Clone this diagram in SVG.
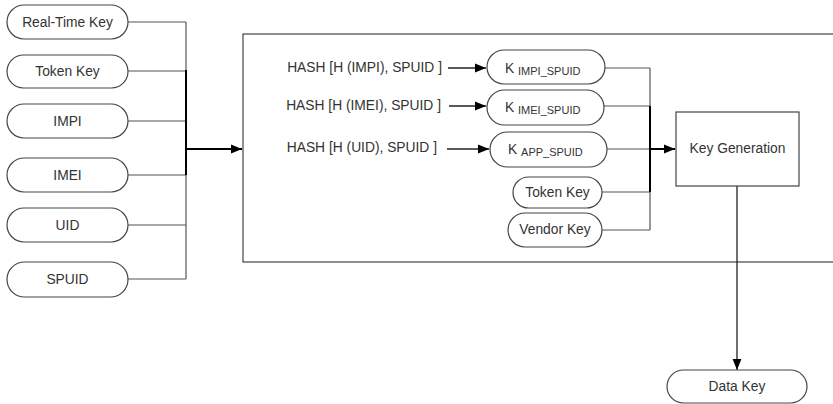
<svg xmlns="http://www.w3.org/2000/svg" width="833" height="404" viewBox="0 0 833 404">
  <style>
    .pill { fill: #fff; stroke: #444; stroke-width: 1.2; }
    .box { fill: #fff; stroke: #444; stroke-width: 1.2; }
    .t { font-family: "Liberation Sans", Arial, sans-serif; font-size: 13.8px; fill: #333; }
    .sub { font-size: 11px; }
    .ln { fill: none; stroke: #555; stroke-width: 1.2; }
    .bold { fill: none; stroke: #000; stroke-width: 2; }
    .thin { fill: none; stroke: #222; stroke-width: 1.3; }
  </style>
  <defs>
    <marker id="arr" viewBox="0 0 10 10" refX="10" refY="5" markerWidth="11" markerHeight="11" markerUnits="userSpaceOnUse" orient="auto">
      <path d="M0,1 L10,5 L0,9 Z" fill="#000"/>
    </marker>
    <marker id="arrBig" viewBox="0 0 10 10" refX="10" refY="5" markerWidth="14" markerHeight="11" markerUnits="userSpaceOnUse" orient="auto">
      <path d="M0,1 L10,5 L0,9 Z" fill="#000"/>
    </marker>
  </defs>

  <!-- processing container -->
  <g id="container">
    <rect class="box" x="243" y="34" width="600" height="228"/>
  </g>

  <!-- connectors -->
  <g id="connectors">
    <!-- input bus -->
    <path class="ln" d="M128,22 H186 M128,71 H186 M128,121 H186 M128,175 H186 M128,225 H186 M128,279 H186 M186,22 V279"/>
    <path class="bold" d="M186,70 V175 M186,149 H242" marker-end="url(#arrBig)"/>
    <!-- hash arrows -->
    <path class="thin" d="M448,68 H486" marker-end="url(#arrBig)"/>
    <path class="thin" d="M449,106 H486" marker-end="url(#arrBig)"/>
    <path class="thin" d="M447,149 H489" marker-end="url(#arrBig)"/>
    <!-- key bus -->
    <path class="ln" d="M605,68 H650 M604,106 H650 M607,149 H650 M602,192 H650 M602,230 H650 M650,68 V230"/>
    <path class="bold" d="M650,106 V192 M650,149 H675" marker-end="url(#arrBig)"/>
    <!-- output -->
    <path class="thin" d="M737,186 V370" marker-end="url(#arr)"/>
  </g>

  <!-- inputs -->
  <g id="real-time-key"><rect class="pill" x="7" y="5" width="121" height="34" rx="17"/><text class="t" x="67.5" y="27" text-anchor="middle">Real-Time Key</text></g>
  <g id="token-key"><rect class="pill" x="7" y="55" width="121" height="33" rx="16.5"/><text class="t" x="67.5" y="76" text-anchor="middle">Token Key</text></g>
  <g id="impi"><rect class="pill" x="7" y="104" width="121" height="34" rx="17"/><text class="t" x="67.5" y="126" text-anchor="middle">IMPI</text></g>
  <g id="imei"><rect class="pill" x="7" y="158" width="121" height="34" rx="17"/><text class="t" x="67.5" y="180" text-anchor="middle">IMEI</text></g>
  <g id="uid"><rect class="pill" x="7" y="208" width="121" height="34" rx="17"/><text class="t" x="67.5" y="230" text-anchor="middle">UID</text></g>
  <g id="spuid"><rect class="pill" x="7" y="262" width="121" height="35" rx="17.5"/><text class="t" x="67.5" y="284" text-anchor="middle">SPUID</text></g>

  <!-- hash labels -->
  <g id="hash-impi"><text class="t" x="442" y="72" text-anchor="end">HASH [H (IMPI), SPUID ]</text></g>
  <g id="hash-imei"><text class="t" x="441" y="110" text-anchor="end">HASH [H (IMEI), SPUID ]</text></g>
  <g id="hash-uid"><text class="t" x="437" y="152" text-anchor="end">HASH [H (UID), SPUID ]</text></g>

  <!-- derived keys -->
  <g id="k-impi-spuid"><rect class="pill" x="487" y="50" width="118" height="34" rx="17"/><text class="t" x="505" y="73">K <tspan class="sub" dy="2">IMPI_SPUID</tspan></text></g>
  <g id="k-imei-spuid"><rect class="pill" x="487" y="90" width="117" height="35" rx="17.5"/><text class="t" x="505" y="112">K <tspan class="sub" dy="2">IMEI_SPUID</tspan></text></g>
  <g id="k-app-spuid"><rect class="pill" x="490" y="132" width="117" height="35" rx="17.5"/><text class="t" x="508" y="154">K <tspan class="sub" dy="2">APP_SPUID</tspan></text></g>
  <g id="token-key-2"><rect class="pill" x="513" y="177" width="89" height="31" rx="15.5"/><text class="t" x="557.5" y="197" text-anchor="middle">Token Key</text></g>
  <g id="vendor-key"><rect class="pill" x="508" y="213" width="94" height="34" rx="17"/><text class="t" x="555" y="234" text-anchor="middle">Vendor Key</text></g>

  <!-- generation -->
  <g id="key-generation"><rect class="box" x="676" y="112" width="123" height="74"/><text class="t" x="737.5" y="153" text-anchor="middle">Key Generation</text></g>

  <!-- output -->
  <g id="data-key"><rect class="pill" x="667" y="370" width="140" height="33" rx="16.5"/><text class="t" x="737" y="391" text-anchor="middle">Data Key</text></g>
</svg>
